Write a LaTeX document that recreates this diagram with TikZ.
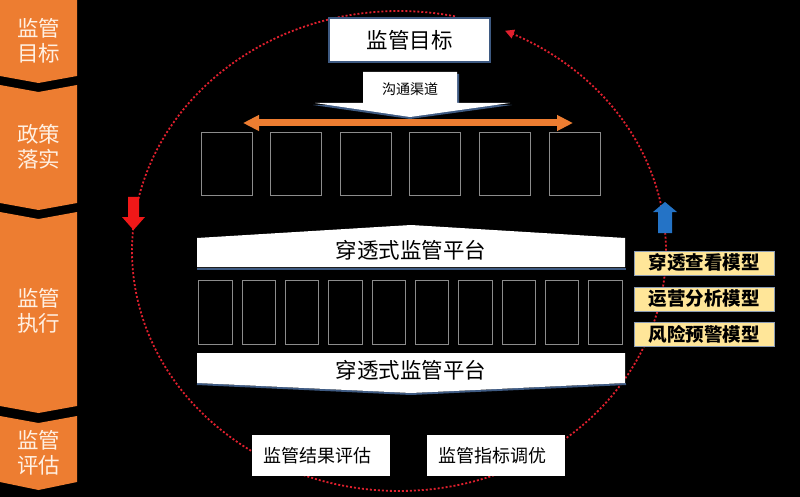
\documentclass[tikz,border=0pt]{standalone}
\usepackage{fontspec}
\setmainfont{Noto Sans CJK SC}
\usetikzlibrary{arrows.meta}
\definecolor{org}{HTML}{ED7D31}
\definecolor{cream}{HTML}{FFF0E2}
\definecolor{dotred}{HTML}{E0202E}
\definecolor{arrred}{HTML}{F01818}
\definecolor{blu}{HTML}{2473C6}
\definecolor{edge}{HTML}{3E5A82}
\definecolor{gline}{HTML}{8C8C8C}
\definecolor{yel}{HTML}{FFE699}
\tikzset{
  chevtext/.style={text=cream, font=\fontsize{21.5}{25}\selectfont, align=center, inner sep=0pt},
  gbox/.style={draw=gline, line width=1pt, fill=black, inner sep=0pt},
  wbox/.style={fill=white, inner sep=0pt},
  ybox/.style={fill=yel, draw=edge!60, line width=0.8pt, minimum width=140pt, minimum height=24pt, inner sep=0pt, font=\bfseries\fontsize{18.5}{20}\selectfont},
  bigtxt/.style={font=\fontsize{21.5}{24}\selectfont},
  midtxt/.style={font=\fontsize{18}{20}\selectfont},
  cycleline/.style={dotred, line width=1.8pt, dash pattern=on 2pt off 2pt},
}
\begin{document}
\begin{tikzpicture}[x=1pt,y=-1pt]
\useasboundingbox (0,0) rectangle (800,497);
\fill[black] (0,0) rectangle (800,497);

% left chevron column
\fill[org] (0,0) -- (77,0) -- (77,76) -- (38.5,83) -- (0,76) -- cycle;
\fill[org] (0,85) -- (38.5,92) -- (77,85) -- (77,203) -- (38.5,210) -- (0,203) -- cycle;
\fill[org] (0,212) -- (38.5,219) -- (77,212) -- (77,406) -- (38.5,413) -- (0,406) -- cycle;
\fill[org] (0,416) -- (38.5,423) -- (77,416) -- (77,482) -- (38.5,490) -- (0,482) -- cycle;
\node[chevtext] (c1) at (38.5,40.5) {监管\\目标};
\node[chevtext] (c2) at (38.5,147) {政策\\落实};
\node[chevtext] (c3) at (38.5,311) {监管\\执行};
\node[chevtext] (c4) at (38.5,453) {监管\\评估};

% dotted cycle
\draw[cycleline, -{Triangle[length=9pt,width=9pt]}]
  plot[domain=-77.9:-426.6, samples=300, variable=\t] ({399+267*cos(\t)},{251+240*sin(\t)});

% red down arrow and blue up arrow
\fill[arrred] (128,197) -- (139,197) -- (139,217) -- (145,217) -- (133.5,230) -- (122,217) -- (128,217) -- cycle;
\fill[blu] (658,233) -- (672,233) -- (672,212) -- (677,212) -- (665,202) -- (653,212) -- (658,212) -- cycle;

% goal box
\node[wbox, draw=edge, line width=1.2pt, minimum width=161pt, minimum height=44pt, bigtxt] (goal) at (409.5,40) {监管目标};

% channel arrow
\fill[edge] (365,74) -- (459,74) -- (459,105) -- (512,105) -- (410,119) -- (313,105) -- (365,105) -- cycle;
\fill[white] (363,72) -- (457,72) -- (457,103) -- (510,103) -- (410,117) -- (315,103) -- (363,103) -- cycle;
\node[font=\fontsize{14}{16}\selectfont, inner sep=0pt] (chan) at (410,89) {沟通渠道};

% orange double arrow
\coordinate (oL) at (243,123);
\coordinate (oR) at (573,123);
\draw[org, line width=7pt, {Triangle[length=16pt,width=15pt]}-{Triangle[length=16pt,width=15pt]}] (oL) -- (oR);

% top row of boxes
\foreach \i in {0,...,5}
  \node[gbox, minimum width=51pt, minimum height=63pt] (t\i) at ({226.5+69.6*\i},164.5) {};

% upper platform banner
\draw[edge, line width=2pt] (197,268.5) -- (626,268.5);
\fill[white] (197,238) -- (411,225) -- (625,238) -- (625,267) -- (197,267) -- cycle;
\node[bigtxt, inner sep=0pt] (plat1) at (411,250) {穿透式监管平台};

% middle row of boxes
\foreach \i in {0,...,9}
  \node[gbox, minimum width=33.5pt, minimum height=64pt] (m\i) at ({215.5+43.33*\i},312) {};

% lower platform banner
\draw[edge, line width=2pt] (197,384) -- (411,394) -- (626,384);
\fill[white] (197,353) -- (625,353) -- (625,383) -- (411,393) -- (197,383) -- cycle;
\node[bigtxt, inner sep=0pt] (plat2) at (411,370) {穿透式监管平台};

% model labels
\node[ybox] (y1) at (704,263) {穿透查看模型};
\node[ybox] (y2) at (704,299) {运营分析模型};
\node[ybox] (y3) at (704,334) {风险预警模型};

% evaluation boxes
\node[wbox, midtxt, minimum width=138pt, minimum height=41pt] (e1) at (321,455.5) {\hspace*{-8pt}监管结果评估};
\node[wbox, midtxt, minimum width=138pt, minimum height=41pt] (e2) at (496,455.5) {\hspace*{-8pt}监管指标调优};
\end{tikzpicture}
\end{document}
